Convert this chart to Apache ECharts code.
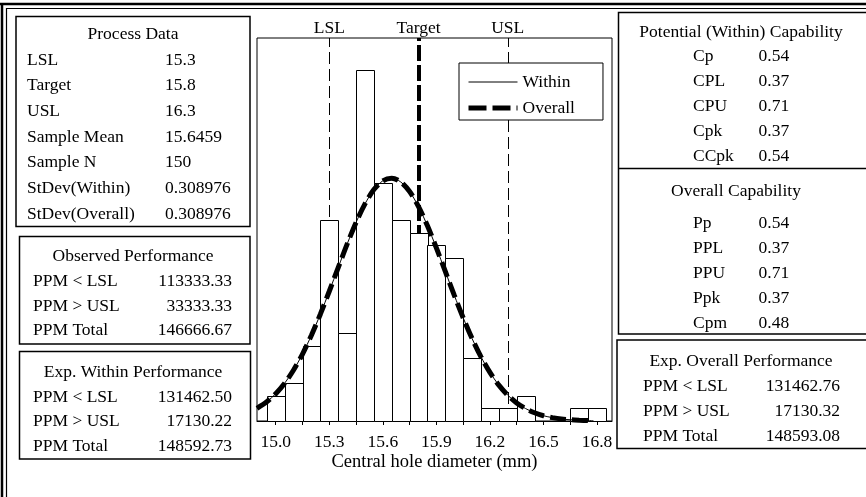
<!DOCTYPE html>
<html>
<head>
<meta charset="utf-8">
<script src="https://cdn.jsdelivr.net/npm/echarts@6/dist/echarts.min.js"></script>
<style>
  html, body { margin: 0; padding: 0; background: #fff; }
  #main { width: 866px; height: 497px; }
</style>
</head>
<body>
<div id="main"></div>
<script>
// histogram: bin centres (mm) and counts
var binCenters = [15.0, 15.1, 15.2, 15.3, 15.4, 15.5, 15.6, 15.7, 15.8, 15.9, 16.0, 16.1, 16.2, 16.3, 16.4, 16.5, 16.6, 16.7, 16.8];
var binCounts = [2, 3, 6, 16, 7, 28, 19, 16, 15, 14, 13, 5, 1, 1, 2, 0, 0, 1, 1];
var binWidth = 0.1;

// fitted curve (within and overall coincide)
var curveX = [14.895, 14.95, 15.0, 15.05, 15.1, 15.15, 15.2, 15.25, 15.3, 15.35, 15.4, 15.45, 15.5, 15.55, 15.6, 15.65, 15.7, 15.75, 15.8, 15.85, 15.9, 15.95, 16.0, 16.05, 16.1, 16.15, 16.2, 16.25, 16.3, 16.35, 16.4, 16.45, 16.5, 16.55, 16.6, 16.65, 16.7, 16.75, 16.78];
var curveY = [1.01, 1.53, 2.18, 3.02, 4.07, 5.34, 6.84, 8.52, 10.35, 12.24, 14.11, 15.84, 17.32, 18.46, 19.16, 19.37, 19.07, 18.30, 17.10, 15.57, 13.81, 11.93, 10.04, 8.24, 6.58, 5.12, 3.88, 2.86, 2.06, 1.44, 0.99, 0.66, 0.42, 0.27, 0.16, 0.10, 0.06, 0.03, 0.02];

var specNames = ['LSL', 'Target', 'USL'];
var specValues = [15.3, 15.8, 16.3];

var xTicks = [15.0, 15.15, 15.3, 15.45, 15.6, 15.75, 15.9, 16.05, 16.2, 16.35, 16.5, 16.65, 16.8];
var xLabels = [15.0, 15.3, 15.6, 15.9, 16.2, 16.5, 16.8];

// tables
var processLabels = ['LSL', 'Target', 'USL', 'Sample Mean', 'Sample N', 'StDev(Within)', 'StDev(Overall)'];
var processValues = ['15.3', '15.8', '16.3', '15.6459', '150', '0.308976', '0.308976'];
var ppmLabels = ['PPM < LSL', 'PPM > USL', 'PPM Total'];
var observedValues = ['113333.33', '33333.33', '146666.67'];
var expWithinValues = ['131462.50', '17130.22', '148592.73'];
var expOverallValues = ['131462.76', '17130.32', '148593.08'];
var potentialLabels = ['Cp', 'CPL', 'CPU', 'Cpk', 'CCpk'];
var potentialValues = ['0.54', '0.37', '0.71', '0.37', '0.54'];
var overallLabels = ['Pp', 'PPL', 'PPU', 'Ppk', 'Cpm'];
var overallValues = ['0.54', '0.37', '0.71', '0.37', '0.48'];

var FONT = 'Liberation Serif';
var FS = 17.5;

function txt(s, x, y, align) {
  return {
    type: 'text', x: x, y: y, silent: true,
    style: { text: s, fill: '#000', fontFamily: FONT, fontSize: FS, textAlign: align || 'left', textVerticalAlign: 'middle' }
  };
}
function box(x, y, w, h) {
  return { type: 'rect', silent: true, shape: { x: x, y: y, width: w, height: h }, style: { fill: 'none', stroke: '#000', lineWidth: 1.5 } };
}
function hline(x1, x2, y, w) {
  return { type: 'line', silent: true, shape: { x1: x1, y1: y, x2: x2, y2: y }, style: { stroke: '#000', lineWidth: w } };
}
function vline(x, y1, y2, w) {
  return { type: 'line', silent: true, shape: { x1: x, y1: y1, x2: x, y2: y2 }, style: { stroke: '#000', lineWidth: w } };
}

var g = [];
// outer double border (top and left)
g.push(hline(0, 866, 4, 2.5), hline(6, 866, 8.5, 1.2), vline(2, 3, 497, 2.5), vline(6.5, 8, 497, 1.2));

// left column
g.push(box(16, 16.5, 234, 210));
g.push(txt('Process Data', 133, 34, 'center'));
processLabels.forEach(function (l, i) {
  var y = 60 + i * 25.67;
  g.push(txt(l, 27, y), txt(processValues[i], 165, y));
});
g.push(box(19.5, 236.5, 230.5, 107.5));
g.push(txt('Observed Performance', 133, 256, 'center'));
ppmLabels.forEach(function (l, i) {
  var y = 281.5 + i * 24.6;
  g.push(txt(l, 33, y), txt(observedValues[i], 232, y, 'right'));
});
g.push(box(19.5, 351.5, 231, 107.5));
g.push(txt('Exp. Within Performance', 133, 372, 'center'));
ppmLabels.forEach(function (l, i) {
  var y = 397 + i * 24.5;
  g.push(txt(l, 33, y), txt(expWithinValues[i], 232, y, 'right'));
});

// right column
g.push(box(618.5, 12.5, 260, 321.5));
g.push(hline(618.5, 866, 168.5, 1.5));
g.push(txt('Potential (Within) Capability', 741, 32.5, 'center'));
potentialLabels.forEach(function (l, i) {
  var y = 56.7 + i * 25;
  g.push(txt(l, 693, y), txt(potentialValues[i], 758.5, y));
});
g.push(txt('Overall Capability', 736, 191, 'center'));
overallLabels.forEach(function (l, i) {
  var y = 223 + i * 25.2;
  g.push(txt(l, 693, y), txt(overallValues[i], 758.5, y));
});
g.push(box(617, 340, 260, 108.5));
g.push(txt('Exp. Overall Performance', 741, 361, 'center'));
ppmLabels.forEach(function (l, i) {
  var y = 386.5 + i * 24.8;
  g.push(txt(l, 643, y), txt(expOverallValues[i], 840, y, 'right'));
});

var chart = echarts.init(document.getElementById('main'), null, { renderer: 'canvas' });

var option = {
  animation: false,
  backgroundColor: '#fff',
  grid: {
    left: 257, right: 254, top: 38, bottom: 76,
    show: true, borderColor: '#000', borderWidth: 1, backgroundColor: '#fff',
    outerBoundsMode: 'none'
  },
  legend: {
    orient: 'vertical', left: 459, top: 63,
    padding: [10, 28, 3, 7], itemGap: 8, itemWidth: 49, itemHeight: 14,
    backgroundColor: '#fff', borderColor: '#000', borderWidth: 1, borderRadius: 0,
    selectedMode: false,
    textStyle: { color: '#000', fontFamily: FONT, fontSize: FS },
    data: [
      { name: 'Within', itemStyle: { opacity: 0 }, lineStyle: { width: 1, type: 'solid', color: '#000' } },
      { name: 'Overall', itemStyle: { opacity: 0 }, lineStyle: { width: 5, type: [18, 6], color: '#000' } }
    ]
  },
  xAxis: {
    type: 'value', min: 14.895, max: 16.884,
    name: 'Central hole diameter (mm)', nameLocation: 'middle', nameGap: 32, nameMoveOverlap: false,
    nameTextStyle: { color: '#000', fontFamily: FONT, fontSize: 18.5 },
    axisLine: { show: true, onZero: false, lineStyle: { color: '#000', width: 1 } },
    axisTick: { show: true, length: 4, lineStyle: { color: '#000' }, customValues: xTicks },
    axisLabel: {
      customValues: xLabels, margin: 12, color: '#000', fontFamily: FONT, fontSize: FS,
      formatter: function (v) { return v.toFixed(1); }
    },
    splitLine: { show: false }
  },
  yAxis: { type: 'value', min: 0, max: 30.55, show: false, splitLine: { show: false } },
  series: [
    {
      name: 'spec', type: 'line', z: 1, data: [], silent: true, symbol: 'none',
      markLine: {
        z: 1, silent: true, symbol: ['none', 'none'], animation: false,
        lineStyle: { color: '#000' },
        label: { show: true, position: 'end', formatter: '{b}', color: '#000', fontFamily: FONT, fontSize: FS, distance: 1 },
        data: specNames.map(function (n, i) {
          return {
            name: n, xAxis: specValues[i],
            lineStyle: i === 1 ? { color: '#000', width: 4, type: [16, 4] } : { color: '#000', width: 1, type: [12, 5] }
          };
        })
      }
    },
    {
      name: 'hist', type: 'custom', z: 2, silent: true,
      data: binCenters.map(function (c, i) { return [c, binCounts[i]]; }),
      encode: { x: 0, y: 1 },
      renderItem: function (params, api) {
        var c = api.value(0), n = api.value(1);
        if (!n) return null;
        var p0 = api.coord([c - binWidth / 2, n]);
        var p1 = api.coord([c + binWidth / 2, 0]);
        return {
          type: 'rect',
          shape: { x: Math.round(p0[0]) + 0.5, y: Math.round(p0[1]) + 0.5, width: Math.round(p1[0] - p0[0]), height: Math.round(p1[1] - p0[1]) },
          style: { fill: '#fff', stroke: '#000', lineWidth: 1 }
        };
      }
    },
    {
      name: 'Overall', type: 'line', z: 3, silent: true, symbol: 'none', smooth: 0.3,
      data: curveX.map(function (x, i) { return [x, curveY[i]]; }),
      lineStyle: { color: '#000', width: 5, type: [16, 6] },
      itemStyle: { color: '#000' }
    },
    {
      name: 'Within', type: 'line', z: 4, silent: true, symbol: 'none', smooth: 0.3,
      data: curveX.map(function (x, i) { return [x, curveY[i]]; }),
      lineStyle: { color: '#000', width: 1, type: 'solid' },
      itemStyle: { color: '#000' }
    }
  ],
  graphic: g
};

chart.setOption(option);
</script>
</body>
</html>
